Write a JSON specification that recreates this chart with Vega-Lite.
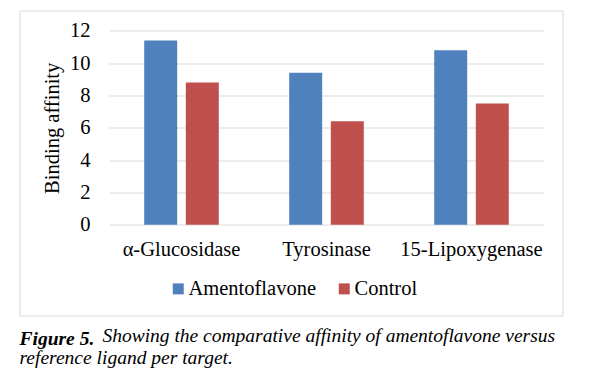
{
  "$schema": "https://vega.github.io/schema/vega-lite/v6.json",
  "width": 543,
  "height": 305,
  "padding": {"left": 19.5, "top": 10.5, "right": 10, "bottom": 5},
  "background": "white",
  "config": {
    "view": {"stroke": "#d9d9d9", "strokeWidth": 1},
    "font": "Liberation Serif"
  },
  "data": {
    "values": [
      {"target": "α-Glucosidase", "ligand": "Amentoflavone", "affinity": 11.4},
      {"target": "α-Glucosidase", "ligand": "Control", "affinity": 8.8},
      {"target": "Tyrosinase", "ligand": "Amentoflavone", "affinity": 9.4},
      {"target": "Tyrosinase", "ligand": "Control", "affinity": 6.4},
      {"target": "15-Lipoxygenase", "ligand": "Amentoflavone", "affinity": 10.8},
      {"target": "15-Lipoxygenase", "ligand": "Control", "affinity": 7.5}
    ]
  },
  "mark": {"type": "bar"},
  "encoding": {
    "x": {
      "field": "target",
      "type": "nominal",
      "sort": ["α-Glucosidase", "Tyrosinase", "15-Lipoxygenase"],
      "scale": {"range": [89.5, 524.5], "paddingInner": 0, "paddingOuter": 0},
      "axis": {
        "title": null,
        "orient": "bottom",
        "offset": -90.7,
        "domain": false,
        "ticks": false,
        "tickSize": 0,
        "labelPadding": 15,
        "labelFontSize": 20.5,
        "labelColor": "black",
        "labelAngle": 0,
        "grid": false
      }
    },
    "xOffset": {
      "field": "ligand",
      "type": "nominal",
      "sort": ["Amentoflavone", "Control"],
      "scale": {"paddingInner": 0.207, "paddingOuter": 0.846}
    },
    "y": {
      "field": "affinity",
      "type": "quantitative",
      "scale": {"domain": [0, 12], "range": [214.3, 20.3], "nice": false},
      "axis": {
        "title": "Binding affinity",
        "values": [0, 2, 4, 6, 8, 10, 12],
        "offset": -89.5,
        "domain": false,
        "ticks": false,
        "tickSize": 0,
        "labelPadding": 19,
        "labelFontSize": 20.5,
        "labelColor": "black",
        "grid": true,
        "gridColor": "#d9d9d9",
        "gridWidth": 1,
        "titleFontSize": 20.5,
        "titleFontWeight": "normal",
        "titleColor": "black",
        "titlePadding": 7
      }
    },
    "color": {
      "field": "ligand",
      "type": "nominal",
      "sort": ["Amentoflavone", "Control"],
      "scale": {"range": ["#4F81BD", "#C0504D"]},
      "legend": {
        "title": null,
        "orient": "none",
        "legendX": 148.5,
        "legendY": 268,
        "direction": "horizontal",
        "symbolType": "square",
        "symbolSize": 121,
        "symbolStrokeWidth": 0,
        "labelFontSize": 20.5,
        "labelColor": "black",
        "labelOffset": 0,
        "columnPadding": 17,
        "padding": 0
      }
    }
  },
  "title": {
    "text": "Figure 5.",
    "subtitle": [
      "\u200b\u00a0\u00a0\u00a0\u00a0\u00a0\u00a0\u00a0\u00a0\u00a0\u00a0\u00a0\u00a0\u00a0\u00a0\u00a0\u00a0\u00a0Showing the comparative affinity of amentoflavone versus",
      "reference ligand per target."
    ],
    "orient": "bottom",
    "anchor": "start",
    "frame": "group",
    "font": "Liberation Serif",
    "fontSize": 19.5,
    "fontStyle": "italic",
    "fontWeight": "bold",
    "color": "black",
    "subtitleFont": "Liberation Serif",
    "subtitleFontSize": 19.5,
    "subtitleFontStyle": "italic",
    "subtitleFontWeight": "normal",
    "subtitleColor": "black",
    "lineHeight": 22,
    "subtitleLineHeight": 22,
    "subtitlePadding": -22,
    "offset": 14
  }
}
